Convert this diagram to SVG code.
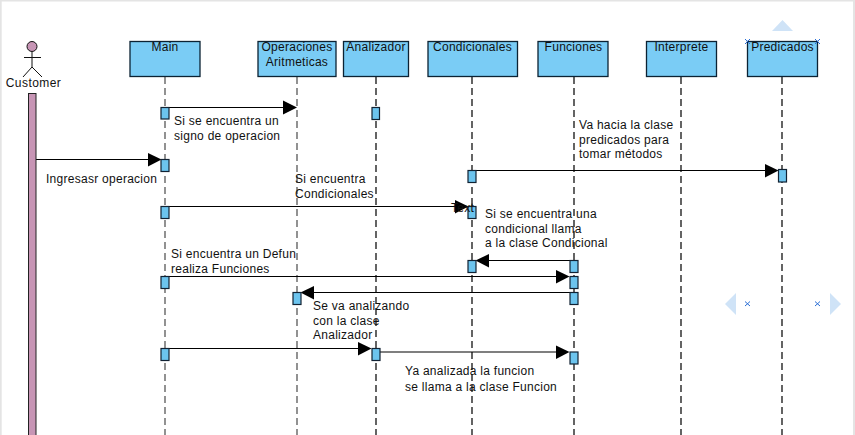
<svg xmlns="http://www.w3.org/2000/svg" width="855" height="435" viewBox="0 0 855 435">
<style>
text{font-family:"Liberation Sans",Arial,sans-serif;font-size:12px;fill:#111;letter-spacing:.27px}
.m{text-anchor:middle}
.box{fill:#7aCcF5;stroke:#0c2233;stroke-width:1.3}
.life{stroke:#111;stroke-width:1.3;stroke-dasharray:7 4;fill:none}
.lifeg{stroke:#777;stroke-width:1.6;stroke-dasharray:7 4;fill:none}
.act{fill:#6cc4ee;stroke:#123;stroke-width:1.2}
.msg{stroke:#000;stroke-width:1.2;fill:none}
.hd{fill:#000}
.hint{fill:#cfe3f7}
.x{stroke:#2b6fd6;stroke-width:1;fill:none}
</style>
<rect width="855" height="435" fill="#fff"/>
<rect x="0" y="0" width="855" height="1.5" fill="#e4e4e4"/>
<rect x="0" y="0" width="1.7" height="435" fill="#e4e4e4"/>
<rect x="853" y="0" width="2" height="435" fill="#e4e4e4"/>
<g id="connectors">
<path class="lifeg" d="M165 77V435M297 77V435"/>
<path class="life" d="M376 77V435M472 77V435M574 77V435M681 77V435M782 77V435"/>
<path class="msg" d="M169 107.500H284"/><path class="hd" d="M283 100.500L297 107.500 283 114.500Z"/>
<path class="msg" d="M36 159.500H149"/><path class="hd" d="M148 153L161.500 159.500 148 166.500Z"/>
<path class="msg" d="M476 170.500H767"/><path class="hd" d="M765 164L778.500 170.500 765 177.500Z"/>
<path class="msg" d="M169 206.500H456"/><path class="hd" d="M455 200L468.500 206.500 455 213.500Z"/>
<path class="msg" d="M488 260.500H570"/><path class="hd" d="M489 254L475.500 260.500 489 267.500Z"/>
<path class="msg" d="M169 276.500H557"/><path class="hd" d="M556 270L569.500 276.500 556 283.500Z"/>
<path class="msg" d="M313 292.500H574"/><path class="hd" d="M314 286L300.500 292.500 314 299.500Z"/>
<path class="msg" d="M169 348.500H360"/><path class="hd" d="M358 342L371.500 348.500 358 355.500Z"/>
<path class="msg" d="M380 352H557"/><path class="hd" d="M556 345.500L569.500 352 556 359Z"/>
</g>
<g id="customer">
<circle cx="32" cy="46.500" r="5" fill="#c795b5" stroke="#111"/>
<path d="M32 52V67M24 57.500H41M23 77L32 67 42 77" stroke="#111" fill="none"/>
<text class="m" x="33.500" y="87" style="letter-spacing:.45px">Customer</text>
<rect x="28.500" y="93.500" width="7.500" height="342" fill="#c795b5" stroke="#222"/>
</g>
<g id="main"><rect class="box" x="130" y="41.500" width="70" height="35"/><text class="m" x="165" y="51">Main</text>
<rect class="act" x="161" y="107.500" width="8" height="11.500"/><rect class="act" x="161" y="159.500" width="8" height="12"/><rect class="act" x="161" y="206.500" width="8" height="12"/><rect class="act" x="161" y="276.500" width="8" height="12"/><rect class="act" x="161" y="348.500" width="8" height="12"/></g>
<g id="operaciones"><rect class="box" x="258" y="41.500" width="78" height="35"/><text class="m" x="297" y="51">Operaciones</text><text class="m" x="297" y="66">Aritmeticas</text>
<rect class="act" x="293" y="292.500" width="8" height="12"/></g>
<g id="analizador"><rect class="box" x="343.500" y="41.500" width="65" height="35"/><text class="m" x="376" y="51">Analizador</text>
<rect class="act" x="372" y="107.500" width="7.500" height="12"/><rect class="act" x="372" y="348.500" width="8" height="12"/></g>
<g id="condicionales"><rect class="box" x="428" y="41.500" width="89.500" height="35"/><text class="m" x="472.500" y="51">Condicionales</text>
<rect class="act" x="468" y="170.500" width="8" height="12"/><rect class="act" x="468" y="206.500" width="8" height="12"/><rect class="act" x="468" y="260.500" width="8" height="12"/></g>
<g id="funciones"><rect class="box" x="538" y="41.500" width="70" height="35"/><text class="m" x="573.500" y="51">Funciones</text>
<rect class="act" x="570" y="260.500" width="8" height="12"/><rect class="act" x="570" y="276.500" width="8" height="12"/><rect class="act" x="570" y="292.500" width="8" height="12"/><rect class="act" x="570" y="352" width="8" height="12"/></g>
<g id="interprete"><rect class="box" x="646.500" y="41.500" width="70" height="35"/><text class="m" x="681.500" y="51">Interprete</text></g>
<g id="predicados"><rect class="box" x="747.500" y="41.500" width="70" height="35"/><text class="m" x="782.500" y="51">Predicados</text>
<rect class="act" x="778.500" y="169.500" width="8" height="12.500"/></g>
<g id="labels">
<text x="174" y="125">Si se encuentra un</text><text x="174" y="140">signo de operacion</text>
<text x="46" y="183">Ingresasr operacion</text>
<text x="579" y="129">Va hacia la clase</text><text x="579" y="144">predicados para</text><text x="579" y="158">tomar métodos</text>
<text x="295" y="183">Si encuentra</text><text x="295" y="198">Condicionales</text>
<text x="451" y="212">Text</text>
<text x="485" y="218">Si se encuentra una</text><text x="485" y="233">condicional llama</text><text x="485" y="247">a la clase Condicional</text>
<text x="171" y="258">Si encuentra un Defun</text><text x="171" y="273">realiza Funciones</text>
<text x="313" y="310">Se va analizando</text><text x="313" y="325">con la clase</text><text x="313" y="339">Analizador</text>
<text x="405" y="375">Ya analizada la funcion</text><text x="405" y="391">se llama a la clase Funcion</text>
</g>
<g id="handles">
<path class="hint" d="M772 31L782.500 20 793 31Z"/>
<path class="hint" d="M736 293V315L725 304Z"/>
<path class="hint" d="M830 293V315L841 304Z"/>
<path class="x" d="M745 39L750 44M750 39L745 44M815 39L820 44M820 39L815 44M745 301.500L750 306M750 301.500L745 306M815 301.500L820 306M820 301.500L815 306"/>
</g>
</svg>
